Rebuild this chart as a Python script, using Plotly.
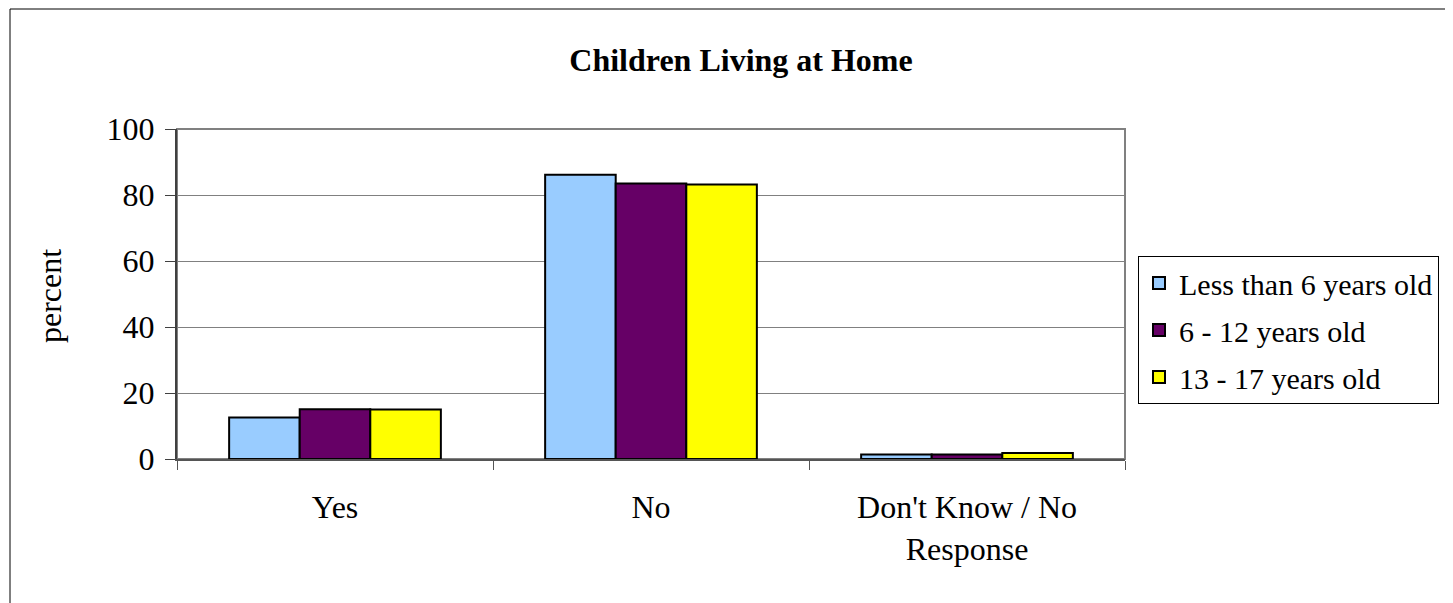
import plotly.graph_objects as go

categories = ["Yes", "No", "Don't Know / No<br>Response"]
series_names = ["Less than 6 years old", "6 - 12 years old", "13 - 17 years old"]
less_than_6 = [12.6, 86.1, 1.4]
age_6_12 = [15.1, 83.5, 1.4]
age_13_17 = [15.0, 83.2, 1.8]
colors = ["#99CCFF", "#660066", "#FFFF00"]

FONT = "Liberation Serif, Times New Roman, serif"
FS = 32

# page has an 8px body margin; compensate
OFF = 8
W, H = 1453 - OFF, 603 - OFF
L, T = 177 - OFF, 129 - OFF
PW, PH = 1125 - 177, 459 - 129
R, B = W - L - PW, H - T - PH

fig = go.Figure()
for i, (name, vals, col) in enumerate(zip(series_names, [less_than_6, age_6_12, age_13_17], colors)):
    fig.add_trace(go.Bar(
        x=categories, y=vals, name=name, legendgroup=f"g{i}",
        marker=dict(color=col, line=dict(color="black", width=2)),
    ))

fig.update_layout(
    width=W, height=H,
    margin=dict(l=L, r=R, t=T, b=B, pad=0),
    paper_bgcolor="white", plot_bgcolor="white",
    barmode="group", bargap=0.33, bargroupgap=0,
    font=dict(family=FONT, size=FS, color="black"),
    title=dict(text="<b>Children Living at Home</b>", x=(741 - OFF) / W, xanchor="center",
               y=1 - (60 - OFF) / H, yanchor="middle", font=dict(family=FONT, size=FS)),
    legend=dict(x=(1138 - 177) / PW, y=1 - (256 - 129) / PH, xanchor="left", yanchor="top",
                bordercolor="black", borderwidth=1, bgcolor="white",
                font=dict(family=FONT, size=30), traceorder="grouped", tracegroupgap=5),
    showlegend=True,
)
fig.update_xaxes(
    type="category", showgrid=False, showline=True, linecolor="#555555", linewidth=2,
    ticks="outside", tickson="boundaries", ticklen=9, tickcolor="#555555", tickwidth=1,
    tickfont=dict(family=FONT, size=FS), ticklabelstandoff=19,
)
fig.update_yaxes(
    range=[0, 100], dtick=20, showgrid=True, gridcolor="#808080", gridwidth=1,
    showline=True, linecolor="#404040", linewidth=2, zeroline=False,
    ticks="outside", ticklen=10, tickcolor="#404040", tickwidth=1,
    tickfont=dict(family=FONT, size=FS), ticklabelstandoff=4,
)
fig.add_shape(type="rect", xref="paper", yref="paper", x0=0, y0=0, x1=1, y1=1,
              line=dict(color="#808080", width=2), layer="below")
fig.add_shape(type="rect", xref="paper", yref="paper",
              x0=(10 - 177) / PW, y0=-0.6, x1=1.5, y1=1 + (129 - 9) / PH,
              line=dict(color="black", width=1))
fig.add_annotation(text="percent", xref="paper", yref="paper", x=(50 - 177) / PW, y=0.5 - 2 / PH,
                   textangle=-90, showarrow=False, font=dict(family=FONT, size=FS),
                   xanchor="center", yanchor="middle")

fig.write_html("out.html")
